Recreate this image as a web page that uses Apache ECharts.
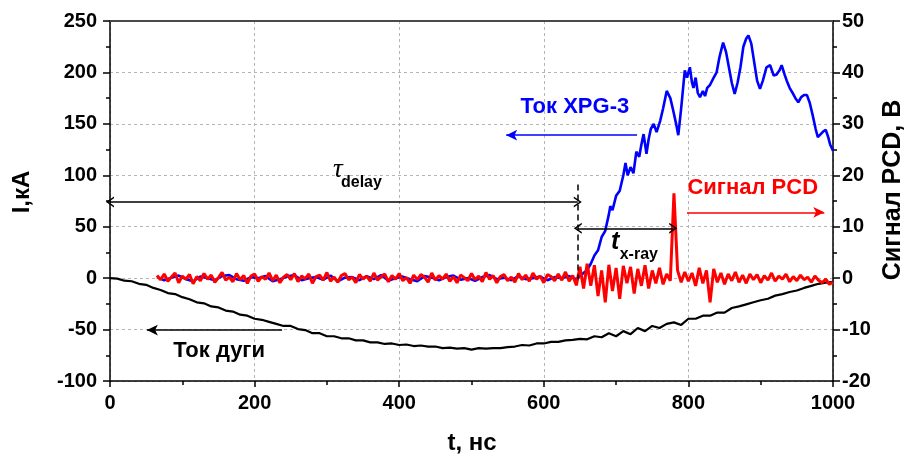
<!DOCTYPE html>
<html><head><meta charset="utf-8">
<script src="https://cdn.jsdelivr.net/npm/echarts@6/dist/echarts.min.js"></script>
<style>html,body{margin:0;padding:0;background:#fff}#c{width:908px;height:459px}</style>
</head><body><div id="c"></div>
<script>
// ---- data ----
// Arc current (Ток дуги), kA, sampled every 10 ns from 0
const arcStart = 0, arcStep = 10;
const arcI = [0,-0.5,-2.5,-3,-5.5,-6.5,-9.5,-11.5,-14.5,-15.5,-18.5,-20.5,-23.5,-24.5,-27.5,-28.5,-31.5,-32.5,-35.5,-36.5,
  -39.5,-40.5,-42.5,-44.5,-46.5,-46.5,-49.5,-50.5,-53.5,-53.5,-56.5,-56.5,-58.5,-58.5,-60.5,-60.5,-62.5,-62.5,-64,-63.5,
  -65,-64.5,-66,-65.5,-66.5,-66.5,-68,-67.5,-68.5,-68,-69.5,-68,-68.5,-68,-68,-67,-66.5,-65,-65.5,-63.5,
  -63.5,-62,-62,-60.5,-60,-59,-59.5,-56.5,-57.5,-53.5,-56.5,-51.5,-54.5,-48.5,-51.5,-46.5,-48.5,-44.5,-43,-45.5,
  -39.5,-39.5,-36.5,-36.5,-33.5,-33.5,-29,-27.5,-25.5,-23.5,-21.5,-20,-17,-15.5,-13.5,-12,-9.5,-7.5,-5.5,-4.5,-3.5];

// XPG-3 current, kA: early part every 10 ns from 65, late part explicit
const xpgEarlyStart = 65, xpgEarlyStep = 10;
const xpgEarly = [1,-2,0.5,2.5,-1,-3,1.5,0,-2,2, 3,-1,-2.5,1,0,2,-3,-1,1.5,3, -2,0,1,-1.5,2.5,-3,0.5,1,-2,2,
  -1,3,-2.5,0,1.5,-1,-3,2,0.5,-2, 1,2.5,-1.5,0,-2.5,1,3,-1,0.5,-2, 2,-1,0,1.5,-2,1,0,2,-1];
const xpgLateT = [650,655,660,665,670,675,680,685,690,692,695,700,705,710,713,716,720,724,728,732,
  735,738,742,745,748,752,756,761,765,770,775,779,783,786,790,795,798,802,805,807,
  810,813,816,820,823,826,830,835,839,843,848,852,856,860,864,868,872,876,880,883,
  887,891,895,899,903,908,913,918,922,926,929,933,936,940,945,948,952,956,960,964,
  968,972,976,979,983,987,990,993,996,1000];
const xpgLateI = [2,5,8,14,22,27,40,46,62,70,66,80,85,100,112,100,108,102,123,118,
  130,140,121,135,145,150,142,153,165,182,175,163,150,139,165,202,195,205,190,185,
  195,180,176,182,177,185,188,195,200,215,229,220,205,190,179,190,205,225,233,236,
  228,210,192,184,192,205,207,197,198,202,207,198,192,185,179,175,171,176,178,178,
  170,158,145,137,140,143,144,138,130,124];

// PCD signal, V, every 5 ns from 65
const pcdStart = 65, pcdStep = 5;
const pcdV = [0.5,-0.3,0.8,-0.6,0.2,1.0,-0.9,0.4,-0.2,0.7,
  -1.1,0.3,-0.5,0.9,-0.2,0.6,-0.8,0.1,1.1,-0.4,
  0.2,-0.7,0.9,-0.3,0.5,-1.0,0.4,0.8,-0.6,0.3,
  -0.2,1.0,-0.5,0.6,-0.9,0.2,0.7,-0.3,0.9,-0.7,
  0.4,-0.1,0.8,-1.0,0.3,0.6,-0.4,1.1,-0.6,0.2,
  -0.8,0.5,0.9,-0.3,0.2,-0.9,0.7,-0.2,0.4,-0.6,
  1.0,-0.4,0.3,0.8,-0.7,0.5,-0.2,0.9,-0.5,0.1,
  -1.0,0.6,-0.3,0.7,0.2,-0.8,1.0,-0.4,0.5,-0.2,
  0.8,-0.6,0.3,-0.9,0.6,0.1,-0.5,0.9,-0.3,0.4,
  -0.7,1.1,-0.2,0.5,-0.9,0.3,0.7,-0.5,0.2,-0.8,
  0.9,-0.3,0.6,-0.6,1.0,-0.2,0.4,-0.9,0.7,0.3,
  -0.5,0.8,-0.4,1.2,-0.6,0.5,-1.4,
  2.2,-2.0,2.8,-1.5,2.5,-3.5,1.5,-4.7,2.6,-2.5,2.0,
  -4.0,2.4,-1.0,2.2,-3.0,1.8,-1.5,2.5,-2.0,1.5,
  -1.0,2.0,-1.2,0.8,-0.5,16.5,1.5,-0.8,1.2,-0.6,
  1.0,-1.5,2.0,-1.0,1.5,-4.7,1.8,-0.8,1.0,-1.2,
  0.8,-0.5,1.2,-0.8,0.6,-1.0,0.8,-0.3,0.7,-0.9,
  0.5,-0.4,1.0,-0.6,0.4,-0.2,0.8,-0.7,0.3,-0.5,
  0.6,-0.3,0.2,-0.8,0.4,-0.4,-0.9,-0.2,-1.2,-0.8];

// axes
const xMin = 0, xMax = 1000, xInt = 200;
const iMin = -100, iMax = 250, iInt = 50;
const vMin = -20, vMax = 50, vInt = 10;

// annotation anchors in data units (t, kA)
const tDelayEnd = 647, tXray = 779;
const texts = {
  seriesXpg: 'Ток XPG-3', seriesPcd: 'Сигнал PCD', seriesArc: 'Ток дуги',
  xName: 't, нс', yName: 'I,кА', y2Name: 'Сигнал PCD, В'
};

// ---- build ----
const arcData = arcI.map((v, i) => [arcStart + i * arcStep, v]);
const xpgData = xpgEarly.map((v, i) => [xpgEarlyStart + i * xpgEarlyStep, v])
  .concat(xpgLateT.map((t, i) => [t, xpgLateI[i]]));
const pcdData = pcdV.map((v, i) => [pcdStart + i * pcdStep, v]);

const FF = '"Liberation Sans", Arial, sans-serif';
const CHEV = 'path://M0,10 L5,0 L10,10 L8.4,10 L5,3.2 L1.6,10 Z';
const lbl = {fontSize: 20, fontWeight: 'bold', color: '#000', fontFamily: FF, formatter: (v) => String(v)};

const chart = echarts.init(document.getElementById('c'), null, {renderer: 'canvas'});
const blackLS = {color: '#000', width: 1.6, type: 'solid'};
const option = {
  animation: false,
  backgroundColor: '#fff',
  grid: {left: 110, right: 75, top: 21, bottom: 78, containLabel: false},
  xAxis: [{
    type: 'value', min: xMin, max: xMax, interval: xInt, position: 'bottom',
    axisLine: {show: true, onZero: false, lineStyle: {color: '#000', width: 1.5}},
    axisTick: {show: true, length: 6, lineStyle: {color: '#000', width: 1.5}},
    minorTick: {show: true, splitNumber: 2, length: 4, lineStyle: {color: '#000', width: 1.5}},
    axisLabel: Object.assign({margin: 12}, lbl),
    splitLine: {show: true, lineStyle: {type: [3, 3], color: '#b4b4b4', width: 1}}
  }, {
    type: 'value', min: xMin, max: xMax, position: 'top',
    axisLine: {show: true, onZero: false, lineStyle: {color: '#4a4a4a', width: 2}},
    axisTick: {show: false}, axisLabel: {show: false}, splitLine: {show: false}
  }],
  yAxis: [{
    type: 'value', min: iMin, max: iMax, interval: iInt, position: 'left',
    axisLine: {show: true, onZero: false, lineStyle: {color: '#000', width: 1.5}},
    axisTick: {show: true, length: 7, lineStyle: {color: '#000', width: 1.5}},
    minorTick: {show: true, splitNumber: 2, length: 4, lineStyle: {color: '#000', width: 1.5}},
    axisLabel: Object.assign({margin: 13}, lbl),
    splitLine: {show: true, lineStyle: {type: [3, 3], color: '#b4b4b4', width: 1}}
  }, {
    type: 'value', min: vMin, max: vMax, interval: vInt, position: 'right',
    axisLine: {show: true, onZero: false, lineStyle: {color: '#000', width: 1.5}},
    axisTick: {show: true, length: 7, lineStyle: {color: '#000', width: 1.5}},
    minorTick: {show: true, splitNumber: 2, length: 4, lineStyle: {color: '#000', width: 1.5}},
    axisLabel: Object.assign({margin: 9}, lbl),
    splitLine: {show: false}
  }],
  series: [{
    name: texts.seriesArc, type: 'line', xAxisIndex: 0, yAxisIndex: 0, data: arcData,
    showSymbol: false, symbol: 'none', lineStyle: {color: '#000', width: 2.2}, z: 2,
    markLine: {
      silent: true, animation: false, symbol: ['none', 'none'], label: {show: false},
      emphasis: {disabled: true},
      data: [
        [{coord: [xMin, 74], symbol: CHEV, symbolSize: [11, 8], lineStyle: blackLS},
         {coord: [tDelayEnd, 74], symbol: CHEV, symbolSize: [11, 8], lineStyle: blackLS}],
        [{coord: [tDelayEnd, 48.5], symbol: CHEV, symbolSize: [11, 8], lineStyle: blackLS},
         {coord: [tXray, 48.5], symbol: CHEV, symbolSize: [11, 8], lineStyle: blackLS}],
        [{coord: [tDelayEnd, 91], symbol: 'none', lineStyle: {color: '#000', width: 1.5, type: [6, 4]}},
         {coord: [tDelayEnd, -1], symbol: 'none', lineStyle: {color: '#000', width: 1.5, type: [6, 4]}}],
        [{coord: [729, 139], symbol: 'none', lineStyle: {color: '#0000ff', width: 1.6, type: 'solid'}},
         {coord: [548, 139], symbol: 'arrow', symbolSize: [8, 11], lineStyle: {color: '#0000ff', width: 1.6, type: 'solid'}}],
        [{coord: [798, 64], symbol: 'none', lineStyle: {color: '#ff0000', width: 1.6, type: 'solid'}},
         {coord: [988, 64], symbol: 'arrow', symbolSize: [8, 11], lineStyle: {color: '#ff0000', width: 1.6, type: 'solid'}}],
        [{coord: [238, -50.5], symbol: 'none', lineStyle: blackLS},
         {coord: [51, -50.5], symbol: 'arrow', symbolSize: [8, 11], lineStyle: blackLS}]
      ]
    }
  }, {
    name: texts.seriesXpg, type: 'line', xAxisIndex: 0, yAxisIndex: 0, data: xpgData,
    showSymbol: false, symbol: 'none', lineStyle: {color: '#0000ff', width: 2.6}, z: 3
  }, {
    name: texts.seriesPcd, type: 'line', xAxisIndex: 0, yAxisIndex: 1, data: pcdData,
    showSymbol: false, symbol: 'none', lineStyle: {color: '#ff0000', width: 3}, z: 4
  }]
};
chart.setOption(option);

function px(t, v) { return chart.convertToPixel({xAxisIndex: 0, yAxisIndex: 0}, [t, v]); }
function txt(p, s, font, color, align, extra) {
  return Object.assign({type: 'text', x: p[0], y: p[1], silent: true, z: 100,
    style: {text: s, font: font, fill: color, align: align || 'center', verticalAlign: 'middle'}}, extra || {});
}
const B = (sz) => 'bold ' + sz + 'px ' + FF;
const g = [
  txt(px(315, 105), 'τ', 'italic 27px "Liberation Serif", "DejaVu Serif", serif', '#000', 'center'),
  txt(px(319.5, 93), 'delay', B(16), '#000', 'left'),
  txt(px(693, 35), 't', 'italic bold 25px ' + FF, '#000', 'left'),
  txt(px(705, 23), 'x-ray', B(16), '#000', 'left'),
  txt(px(643, 166), texts.seriesXpg, B(22), '#0000ff', 'center'),
  txt(px(889, 88), texts.seriesPcd, B(22), '#ff0000', 'center'),
  txt(px(151, -71), texts.seriesArc, B(22), '#000', 'center'),
  {type: 'text', x: 472, y: 443, silent: true, style: {text: texts.xName, font: B(24), fill: '#000', align: 'center', verticalAlign: 'middle'}},
  {type: 'text', x: 22, y: 192, rotation: Math.PI / 2, silent: true, style: {text: texts.yName, font: B(24), fill: '#000', align: 'center', verticalAlign: 'middle'}},
  {type: 'text', x: 893, y: 190, rotation: Math.PI / 2, silent: true, style: {text: texts.y2Name, font: B(25), fill: '#000', align: 'center', verticalAlign: 'middle'}}
];
chart.setOption({graphic: g});
</script></body></html>
